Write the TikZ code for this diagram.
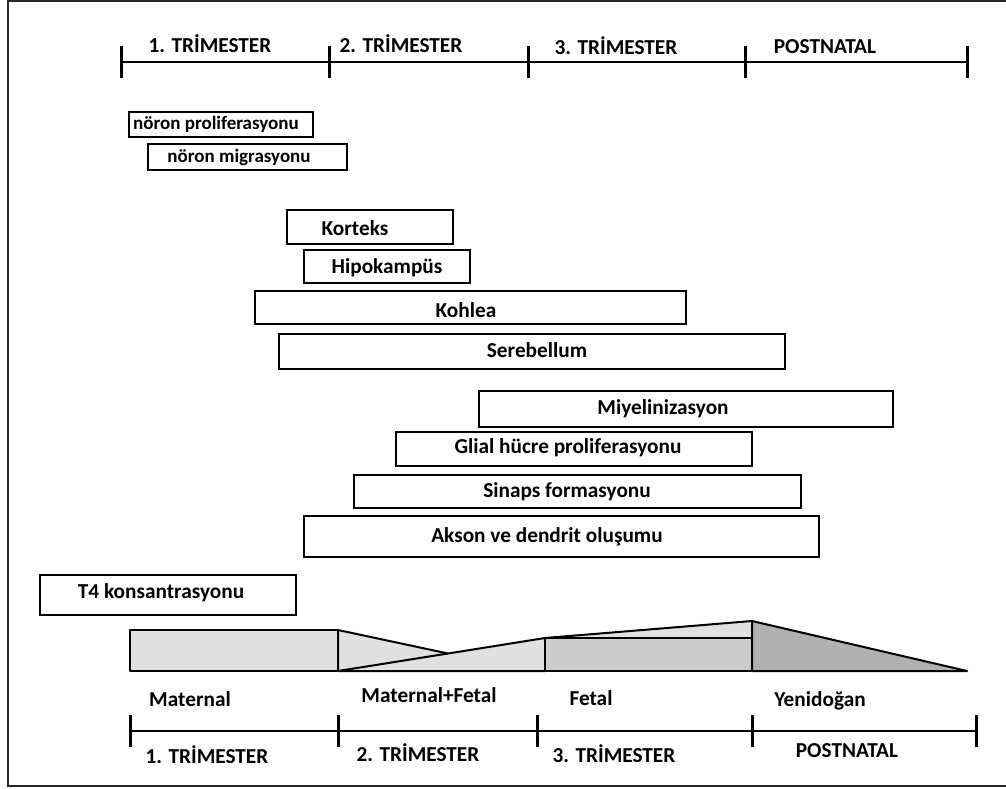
\documentclass[tikz,border=0pt]{standalone}
\usepackage{fontspec}
\setmainfont{Carlito}
\begin{document}
\begin{tikzpicture}[x=1pt,y=-1pt,
  bar/.style={draw=black,line width=2.6pt,fill=white,inner sep=0pt},
  lbl/.style={font=\fontsize{21.3}{21.3}\selectfont\bfseries,inner sep=0pt},
  slbl/.style={font=\fontsize{19}{19}\selectfont\bfseries,inner sep=0pt},
  axis/.style={line width=2.6pt,draw=black},
  tick/.style={line width=3pt,draw=black},
  hshape/.style={draw=black,line width=2pt,line join=round}]
\useasboundingbox (0,0) rectangle (1006,789);
\fill[white] (0,0) rectangle (1006,789);
% frame
\draw[line width=2pt,draw=black!85] (1006,1) -- (8,1) -- (8,786) -- (1006,786);

% top axis
\coordinate (t0) at (121,62);
\coordinate (t1) at (329,62);
\coordinate (t2) at (528,62);
\coordinate (t3) at (745,62);
\coordinate (t4) at (967,62);
\draw[axis] (t0) -- (t4);
\foreach \p in {t0,t1,t2,t3,t4} \draw[tick] ([yshift=-16pt]\p) -- ([yshift=16pt]\p);
\node[lbl] (tl1) at (210,44) {1. TRİMESTER};
\node[lbl] (tl2) at (401,44) {2. TRİMESTER};
\node[lbl] (tl3) at (616,46) {3. TRİMESTER};
\node[lbl] (tl4) at (825,47) {POSTNATAL};

% small boxes
\node[bar,minimum width=184pt,minimum height=25pt] (prol) at (221,124.5) {};
\node[slbl,anchor=west] (prolt) at (133,124.5) {nöron proliferasyonu};
\node[bar,minimum width=199pt,minimum height=26pt] (migr) at (247.5,157) {};
\node[slbl] (migrt) at (239,157) {nöron migrasyonu};

% region boxes
\node[bar,minimum width=166pt,minimum height=34pt] (kor) at (370,227) {};
\node[lbl] (kort) at (355,228) {Korteks};
\node[bar,minimum width=166pt,minimum height=33pt] (hip) at (387,266.5) {};
\node[lbl] (hipt) at (387,268) {Hipokampüs};
\node[bar,minimum width=431pt,minimum height=33pt] (koh) at (470.5,307.5) {};
\node[lbl] (koht) at (466,310) {Kohlea};
\node[bar,minimum width=506pt,minimum height=35pt] (ser) at (532,351.5) {};
\node[lbl] (sert) at (537,350) {Serebellum};
\node[bar,minimum width=414pt,minimum height=36pt] (miy) at (686,409) {};
\node[lbl] (miyt) at (663,409) {Miyelinizasyon};
\node[bar,minimum width=356pt,minimum height=34pt] (gli) at (574,449) {};
\node[lbl] (glit) at (568,448) {Glial hücre proliferasyonu};
\node[bar,minimum width=447pt,minimum height=33pt] (sin) at (577.5,491.5) {};
\node[lbl] (sint) at (567,492) {Sinaps formasyonu};
\node[bar,minimum width=515pt,minimum height=41pt] (aks) at (561.5,536.5) {};
\node[lbl] (akst) at (547,537) {Akson ve dendrit oluşumu};
\node[bar,minimum width=256pt,minimum height=40pt] (t4b) at (168,595) {};
\node[lbl] (t4t) at (161,593) {T4 konsantrasyonu};

% hormone source shapes
\coordinate (m0) at (130,630);
\coordinate (m1) at (338,630);
\coordinate (m2) at (338,671);
\coordinate (m3) at (130,671);
\coordinate (x) at (448,653.5);
\coordinate (f0) at (545,638);
\coordinate (f1) at (545,671);
\coordinate (p0) at (752,621);
\coordinate (p1) at (752,638);
\coordinate (p2) at (752,671);
\coordinate (p3) at (967,671);
\filldraw[hshape,fill=black!12] (m0) -- (m1) -- (m2) -- (m3) -- cycle;
\filldraw[hshape,fill=black!12] (m1) -- (x) -- (f0) -- (f1) -- (m2) -- cycle;
\draw[hshape] (m2) -- (x);
\filldraw[hshape,fill=black!12] (f0) -- (p0) -- (p1) -- cycle;
\filldraw[hshape,fill=black!20] (f0) -- (p1) -- (p2) -- (f1) -- cycle;
\filldraw[hshape,fill=black!31] (p0) -- (p3) -- (p2) -- cycle;

\node[lbl] (mat) at (190,699) {Maternal};
\node[lbl] (mf) at (429,695) {Maternal+Fetal};
\node[lbl] (fet) at (591,698) {Fetal};
\node[lbl] (yen) at (820,701) {Yenidoğan};

% bottom axis
\coordinate (b0) at (130,731);
\coordinate (b1) at (338,731);
\coordinate (b2) at (537,731);
\coordinate (b3) at (752,731);
\coordinate (b4) at (976,731);
\draw[axis] (b0) -- (b4);
\foreach \p in {b0,b1,b2,b3,b4} \draw[tick] ([yshift=-16pt]\p) -- ([yshift=16pt]\p);
\node[lbl] (bl1) at (207,755) {1. TRİMESTER};
\node[lbl] (bl2) at (418,753) {2. TRİMESTER};
\node[lbl] (bl3) at (614,754) {3. TRİMESTER};
\node[lbl] (bl4) at (847,751) {POSTNATAL};
\end{tikzpicture}
\end{document}
